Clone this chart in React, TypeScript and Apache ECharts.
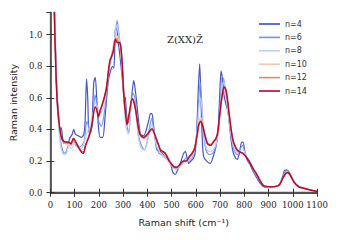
import React, { useEffect, useRef } from "react";
import * as echarts from "echarts";

const xTicks = [0, 100, 200, 300, 400, 500, 600, 700, 800, 900, 1000, 1100];
const yTicks = [0.0, 0.2, 0.4, 0.6, 0.8, 1.0];
const seriesNames = ["n=4", "n=6", "n=8", "n=10", "n=12", "n=14"];
const seriesColors = ["#3b4cc0", "#6f92f3", "#b9d0f9", "#f4c5ad", "#ee8468", "#b40426"];

const n4 = [[10,1.6],[17,1.14],[25,0.7],[33,0.5],[40,0.4],[45,0.41],[50,0.35],[56,0.31],[64,0.32],[72,0.31],[81,0.35],[90,0.37],[96,0.4],[103,0.37],[115,0.36],[128,0.35],[138,0.37],[143,0.45],[149,0.72],[154,0.6],[159,0.38],[166,0.38],[172,0.45],[179,0.7],[185,0.73],[191,0.6],[198,0.42],[205,0.35],[216,0.35],[224,0.45],[232,0.6],[240,0.72],[248,0.77],[256,0.8],[262,0.79],[268,1.03],[273,1.04],[280,0.95],[288,0.85],[296,0.73],[303,0.62],[309,0.6],[314,0.5],[320,0.44],[328,0.5],[336,0.62],[344,0.71],[351,0.64],[358,0.54],[365,0.44],[372,0.37],[385,0.36],[396,0.4],[406,0.46],[413,0.5],[419,0.5],[425,0.43],[431,0.36],[440,0.27],[454,0.26],[462,0.25],[474,0.225],[485,0.22],[495,0.19],[505,0.13],[515,0.115],[524,0.14],[535,0.18],[543,0.22],[550,0.25],[557,0.26],[564,0.22],[571,0.185],[580,0.2],[591,0.22],[598,0.26],[604,0.4],[610,0.65],[616,0.815],[621,0.6],[626,0.36],[632,0.23],[645,0.2],[660,0.185],[674,0.24],[684,0.3],[692,0.4],[698,0.6],[704,0.77],[710,0.72],[716,0.62],[724,0.56],[731,0.52],[737,0.46],[745,0.34],[752,0.27],[760,0.23],[770,0.21],[780,0.25],[789,0.32],[795,0.32],[802,0.26],[811,0.21],[823,0.18],[835,0.14],[849,0.1],[865,0.06],[878,0.04],[895,0.035],[920,0.036],[945,0.05],[958,0.1],[966,0.14],[975,0.145],[985,0.13],[995,0.1],[1005,0.07],[1020,0.045],[1040,0.03],[1065,0.02],[1100,0.008]];

const n6 = [[10,1.6],[18,1.14],[26,0.65],[34,0.45],[42,0.33],[50,0.27],[57,0.25],[65,0.26],[75,0.3],[85,0.3],[95,0.33],[105,0.3],[118,0.29],[130,0.3],[140,0.33],[150,0.45],[158,0.42],[167,0.38],[176,0.5],[184,0.62],[192,0.55],[200,0.45],[210,0.42],[220,0.48],[230,0.6],[240,0.75],[250,0.85],[258,0.88],[266,0.98],[275,1.09],[283,1.0],[292,0.88],[300,0.7],[308,0.5],[316,0.42],[324,0.38],[332,0.55],[340,0.63],[348,0.6],[356,0.48],[364,0.36],[375,0.3],[388,0.27],[400,0.33],[410,0.42],[418,0.47],[427,0.4],[436,0.3],[448,0.25],[460,0.24],[474,0.22],[490,0.2],[505,0.16],[520,0.15],[535,0.17],[548,0.2],[560,0.22],[572,0.2],[585,0.22],[596,0.28],[604,0.38],[612,0.6],[618,0.7],[624,0.58],[632,0.38],[642,0.27],[655,0.24],[670,0.25],[682,0.29],[692,0.38],[700,0.55],[708,0.73],[715,0.72],[722,0.64],[730,0.55],[740,0.42],[750,0.32],[760,0.26],[772,0.24],[784,0.28],[793,0.3],[803,0.25],[815,0.21],[828,0.18],[842,0.13],[858,0.09],[874,0.052],[890,0.038],[915,0.037],[940,0.045],[955,0.08],[968,0.13],[978,0.14],[990,0.115],[1002,0.08],[1015,0.05],[1035,0.032],[1060,0.022],[1100,0.009]];

const n8 = [[10,1.6],[18,1.14],[26,0.63],[34,0.42],[42,0.3],[50,0.25],[57,0.24],[66,0.25],[76,0.29],[88,0.28],[98,0.31],[110,0.3],[122,0.28],[134,0.29],[146,0.36],[156,0.4],[166,0.43],[176,0.5],[186,0.57],[196,0.54],[206,0.5],[216,0.52],[226,0.6],[236,0.72],[246,0.82],[256,0.9],[265,0.98],[274,1.06],[282,1.0],[290,0.9],[298,0.72],[306,0.52],[314,0.4],[322,0.37],[330,0.5],[338,0.6],[346,0.58],[354,0.48],[362,0.36],[372,0.29],[386,0.27],[398,0.31],[410,0.39],[418,0.43],[428,0.38],[438,0.3],[450,0.26],[462,0.24],[476,0.22],[492,0.19],[508,0.155],[522,0.15],[536,0.17],[550,0.19],[562,0.2],[575,0.21],[588,0.24],[598,0.3],[606,0.4],[614,0.56],[620,0.6],[626,0.52],[634,0.37],[644,0.28],[656,0.26],[670,0.27],[682,0.3],[692,0.38],[700,0.52],[708,0.68],[716,0.7],[724,0.62],[732,0.52],[742,0.4],[752,0.31],[762,0.27],[774,0.25],[786,0.27],[796,0.27],[806,0.24],[818,0.2],[830,0.17],[845,0.125],[860,0.085],[876,0.05],[892,0.038],[915,0.037],[940,0.046],[956,0.085],[968,0.12],[978,0.13],[990,0.11],[1002,0.078],[1016,0.048],[1035,0.031],[1060,0.021],[1100,0.009]];

const n10 = [[10,1.6],[16,1.14],[22,0.78],[28,0.58],[36,0.43],[44,0.35],[52,0.32],[62,0.31],[74,0.3],[86,0.3],[96,0.33],[106,0.31],[118,0.29],[130,0.27],[140,0.28],[150,0.33],[160,0.38],[172,0.45],[184,0.55],[192,0.53],[200,0.5],[210,0.54],[220,0.6],[230,0.66],[240,0.77],[248,0.85],[256,0.9],[264,0.96],[272,1.0],[280,0.97],[288,0.93],[296,0.8],[303,0.62],[310,0.5],[317,0.44],[326,0.5],[338,0.59],[346,0.56],[354,0.5],[363,0.41],[372,0.36],[386,0.34],[400,0.36],[412,0.39],[420,0.4],[432,0.36],[444,0.31],[456,0.27],[468,0.25],[480,0.23],[494,0.2],[510,0.17],[524,0.165],[536,0.175],[548,0.195],[560,0.2],[572,0.22],[585,0.25],[596,0.29],[606,0.38],[614,0.46],[620,0.48],[628,0.44],[636,0.38],[648,0.32],[660,0.31],[672,0.33],[684,0.35],[692,0.39],[699,0.48],[706,0.58],[714,0.65],[721,0.65],[728,0.6],[736,0.5],[745,0.4],[754,0.33],[764,0.29],[776,0.26],[790,0.255],[802,0.24],[814,0.215],[826,0.185],[838,0.15],[852,0.115],[866,0.078],[880,0.047],[896,0.039],[920,0.038],[942,0.048],[958,0.088],[970,0.118],[980,0.124],[990,0.11],[1002,0.077],[1015,0.05],[1030,0.034],[1050,0.026],[1075,0.016],[1100,0.008]];

const n12 = [[10,1.6],[16,1.14],[22,0.79],[28,0.59],[36,0.44],[44,0.355],[52,0.325],[62,0.315],[74,0.315],[85,0.305],[95,0.34],[105,0.315],[118,0.285],[130,0.26],[138,0.26],[148,0.31],[160,0.36],[172,0.43],[184,0.545],[191,0.53],[199,0.485],[207,0.52],[215,0.56],[224,0.61],[233,0.67],[241,0.78],[248,0.84],[255,0.87],[263,0.92],[270,0.98],[278,0.96],[286,0.945],[292,0.9],[299,0.75],[305,0.6],[312,0.49],[318,0.435],[328,0.52],[338,0.595],[346,0.565],[354,0.51],[363,0.415],[372,0.36],[386,0.345],[400,0.365],[412,0.39],[420,0.4],[431,0.365],[443,0.315],[455,0.27],[467,0.255],[478,0.24],[492,0.2],[510,0.165],[522,0.16],[533,0.172],[545,0.193],[558,0.2],[572,0.224],[585,0.25],[596,0.285],[606,0.37],[614,0.44],[620,0.46],[628,0.43],[636,0.38],[648,0.31],[661,0.3],[673,0.32],[684,0.345],[692,0.385],[698,0.47],[705,0.57],[712,0.64],[718,0.665],[725,0.64],[732,0.57],[740,0.46],[749,0.37],[758,0.31],[768,0.28],[780,0.26],[792,0.252],[803,0.237],[814,0.214],[825,0.187],[837,0.152],[850,0.12],[864,0.082],[878,0.048],[893,0.039],[915,0.038],[938,0.044],[954,0.075],[967,0.115],[978,0.127],[988,0.115],[1000,0.08],[1013,0.052],[1028,0.035],[1048,0.027],[1070,0.018],[1100,0.008]];

const n14 = [[10,1.6],[16,1.14],[22,0.8],[27,0.6],[35,0.45],[44,0.36],[52,0.33],[62,0.32],[74,0.32],[84,0.31],[95,0.345],[105,0.32],[118,0.28],[130,0.255],[136,0.25],[145,0.3],[158,0.35],[170,0.42],[184,0.54],[190,0.53],[198,0.48],[205,0.52],[212,0.55],[222,0.6],[232,0.67],[240,0.78],[246,0.84],[252,0.86],[260,0.9],[268,0.97],[276,0.95],[284,0.95],[290,0.93],[297,0.8],[302,0.63],[310,0.5],[316,0.43],[325,0.5],[337,0.595],[345,0.57],[352,0.52],[362,0.42],[371,0.365],[385,0.35],[400,0.37],[412,0.395],[419,0.405],[430,0.37],[442,0.32],[454,0.27],[465,0.26],[474,0.25],[490,0.2],[509,0.165],[520,0.16],[530,0.17],[540,0.19],[550,0.2],[560,0.2],[572,0.225],[585,0.25],[595,0.28],[605,0.36],[612,0.43],[620,0.45],[627,0.43],[634,0.385],[648,0.31],[661,0.3],[672,0.32],[682,0.34],[690,0.38],[696,0.46],[702,0.54],[708,0.61],[716,0.668],[722,0.66],[728,0.62],[736,0.52],[744,0.42],[752,0.34],[760,0.3],[770,0.27],[780,0.258],[792,0.25],[803,0.235],[813,0.215],[823,0.19],[835,0.155],[849,0.122],[862,0.085],[876,0.049],[890,0.04],[910,0.038],[930,0.04],[945,0.05],[958,0.09],[970,0.12],[979,0.128],[988,0.115],[1000,0.08],[1013,0.052],[1027,0.036],[1045,0.028],[1065,0.02],[1080,0.014],[1100,0.008]];

const allData = [n4, n6, n8, n10, n12, n14];

export default function App() {
  const ref = useRef<HTMLDivElement>(null);
  useEffect(() => {
    if (!ref.current) return;
    const chart = echarts.init(ref.current, null, { renderer: "svg" });
    const serif = "DejaVu Serif";
    const sans = "DejaVu Sans";
    const tickStyle = { show: true, inside: true, length: 4, lineStyle: { color: "#333", width: 1 } };
    chart.setOption({
      animation: false,
      backgroundColor: "#fff",
      title: {
        text: "Z(XX)Z\u0304",
        left: 162,
        top: 29,
        textStyle: { fontFamily: serif, fontSize: 10, fontWeight: "normal", color: "#222" },
      },
      grid: { left: 50, right: 23, top: 12.5, bottom: 47.3 },
      legend: {
        data: seriesNames,
        orient: "vertical",
        left: 259,
        top: 19,
        padding: 0,
        icon: "rect",
        itemWidth: 21,
        itemHeight: 1.6,
        itemGap: 3.4,
        textStyle: { fontFamily: sans, fontSize: 8, color: "#333", lineHeight: 10 },
      },
      xAxis: [
        {
          type: "value",
          min: 0,
          max: 1100,
          interval: 100,
          name: "Raman shift (cm\u207B\u00B9)",
          nameLocation: "middle",
          nameGap: 25,
          nameTextStyle: { fontFamily: sans, fontSize: 9.5, color: "#222" },
          axisLine: { show: true, lineStyle: { color: "#111", width: 1.6 } },
          axisTick: tickStyle,
          axisLabel: {
            fontFamily: serif,
            fontSize: 8.5,
            color: "#222",
            margin: 8,
            formatter: (v: number) => (xTicks.includes(Math.round(v)) ? String(Math.round(v)) : ""),
          },
          splitLine: { show: false },
        },
        {
          type: "value",
          position: "top",
          min: 0,
          max: 1100,
          interval: 100,
          axisLine: { show: true, lineStyle: { color: "#555", width: 1.3 } },
          axisTick: tickStyle,
          axisLabel: { show: false },
          splitLine: { show: false },
        },
      ],
      yAxis: [
        {
          type: "value",
          min: 0,
          max: 1.14,
          interval: 0.2,
          name: "Raman intensity",
          nameLocation: "middle",
          nameGap: 26,
          nameTextStyle: { fontFamily: sans, fontSize: 9.5, color: "#222" },
          axisLine: { show: true, lineStyle: { color: "#444", width: 1.6 } },
          axisTick: tickStyle,
          axisLabel: {
            fontFamily: serif,
            fontSize: 8.5,
            color: "#222",
            margin: 8,
            showMaxLabel: false,
            formatter: (v: number) => (yTicks.some((t) => Math.abs(t - v) < 1e-6) ? v.toFixed(1) : ""),
          },
          splitLine: { show: false },
        },
        {
          type: "value",
          position: "right",
          min: 0,
          max: 1.14,
          interval: 0.2,
          axisLine: { show: true, lineStyle: { color: "#555", width: 1.3 } },
          axisTick: tickStyle,
          axisLabel: { show: false },
          splitLine: { show: false },
        },
      ],
      series: allData.map((d, i) => ({
        name: seriesNames[i],
        type: "line",
        data: d,
        xAxisIndex: 0,
        yAxisIndex: 0,
        symbol: "none",
        smooth: 0.25,
        clip: true,
        lineStyle: { color: seriesColors[i], width: i === 5 ? 1.5 : 1.2, opacity: 0.95 },
        itemStyle: { color: seriesColors[i] },
        z: 2 + i,
      })),
    });
    return () => chart.dispose();
  }, []);
  return <div ref={ref} style={{ width: 340, height: 240, position: "fixed", left: 0, top: 0 }} />;
}
